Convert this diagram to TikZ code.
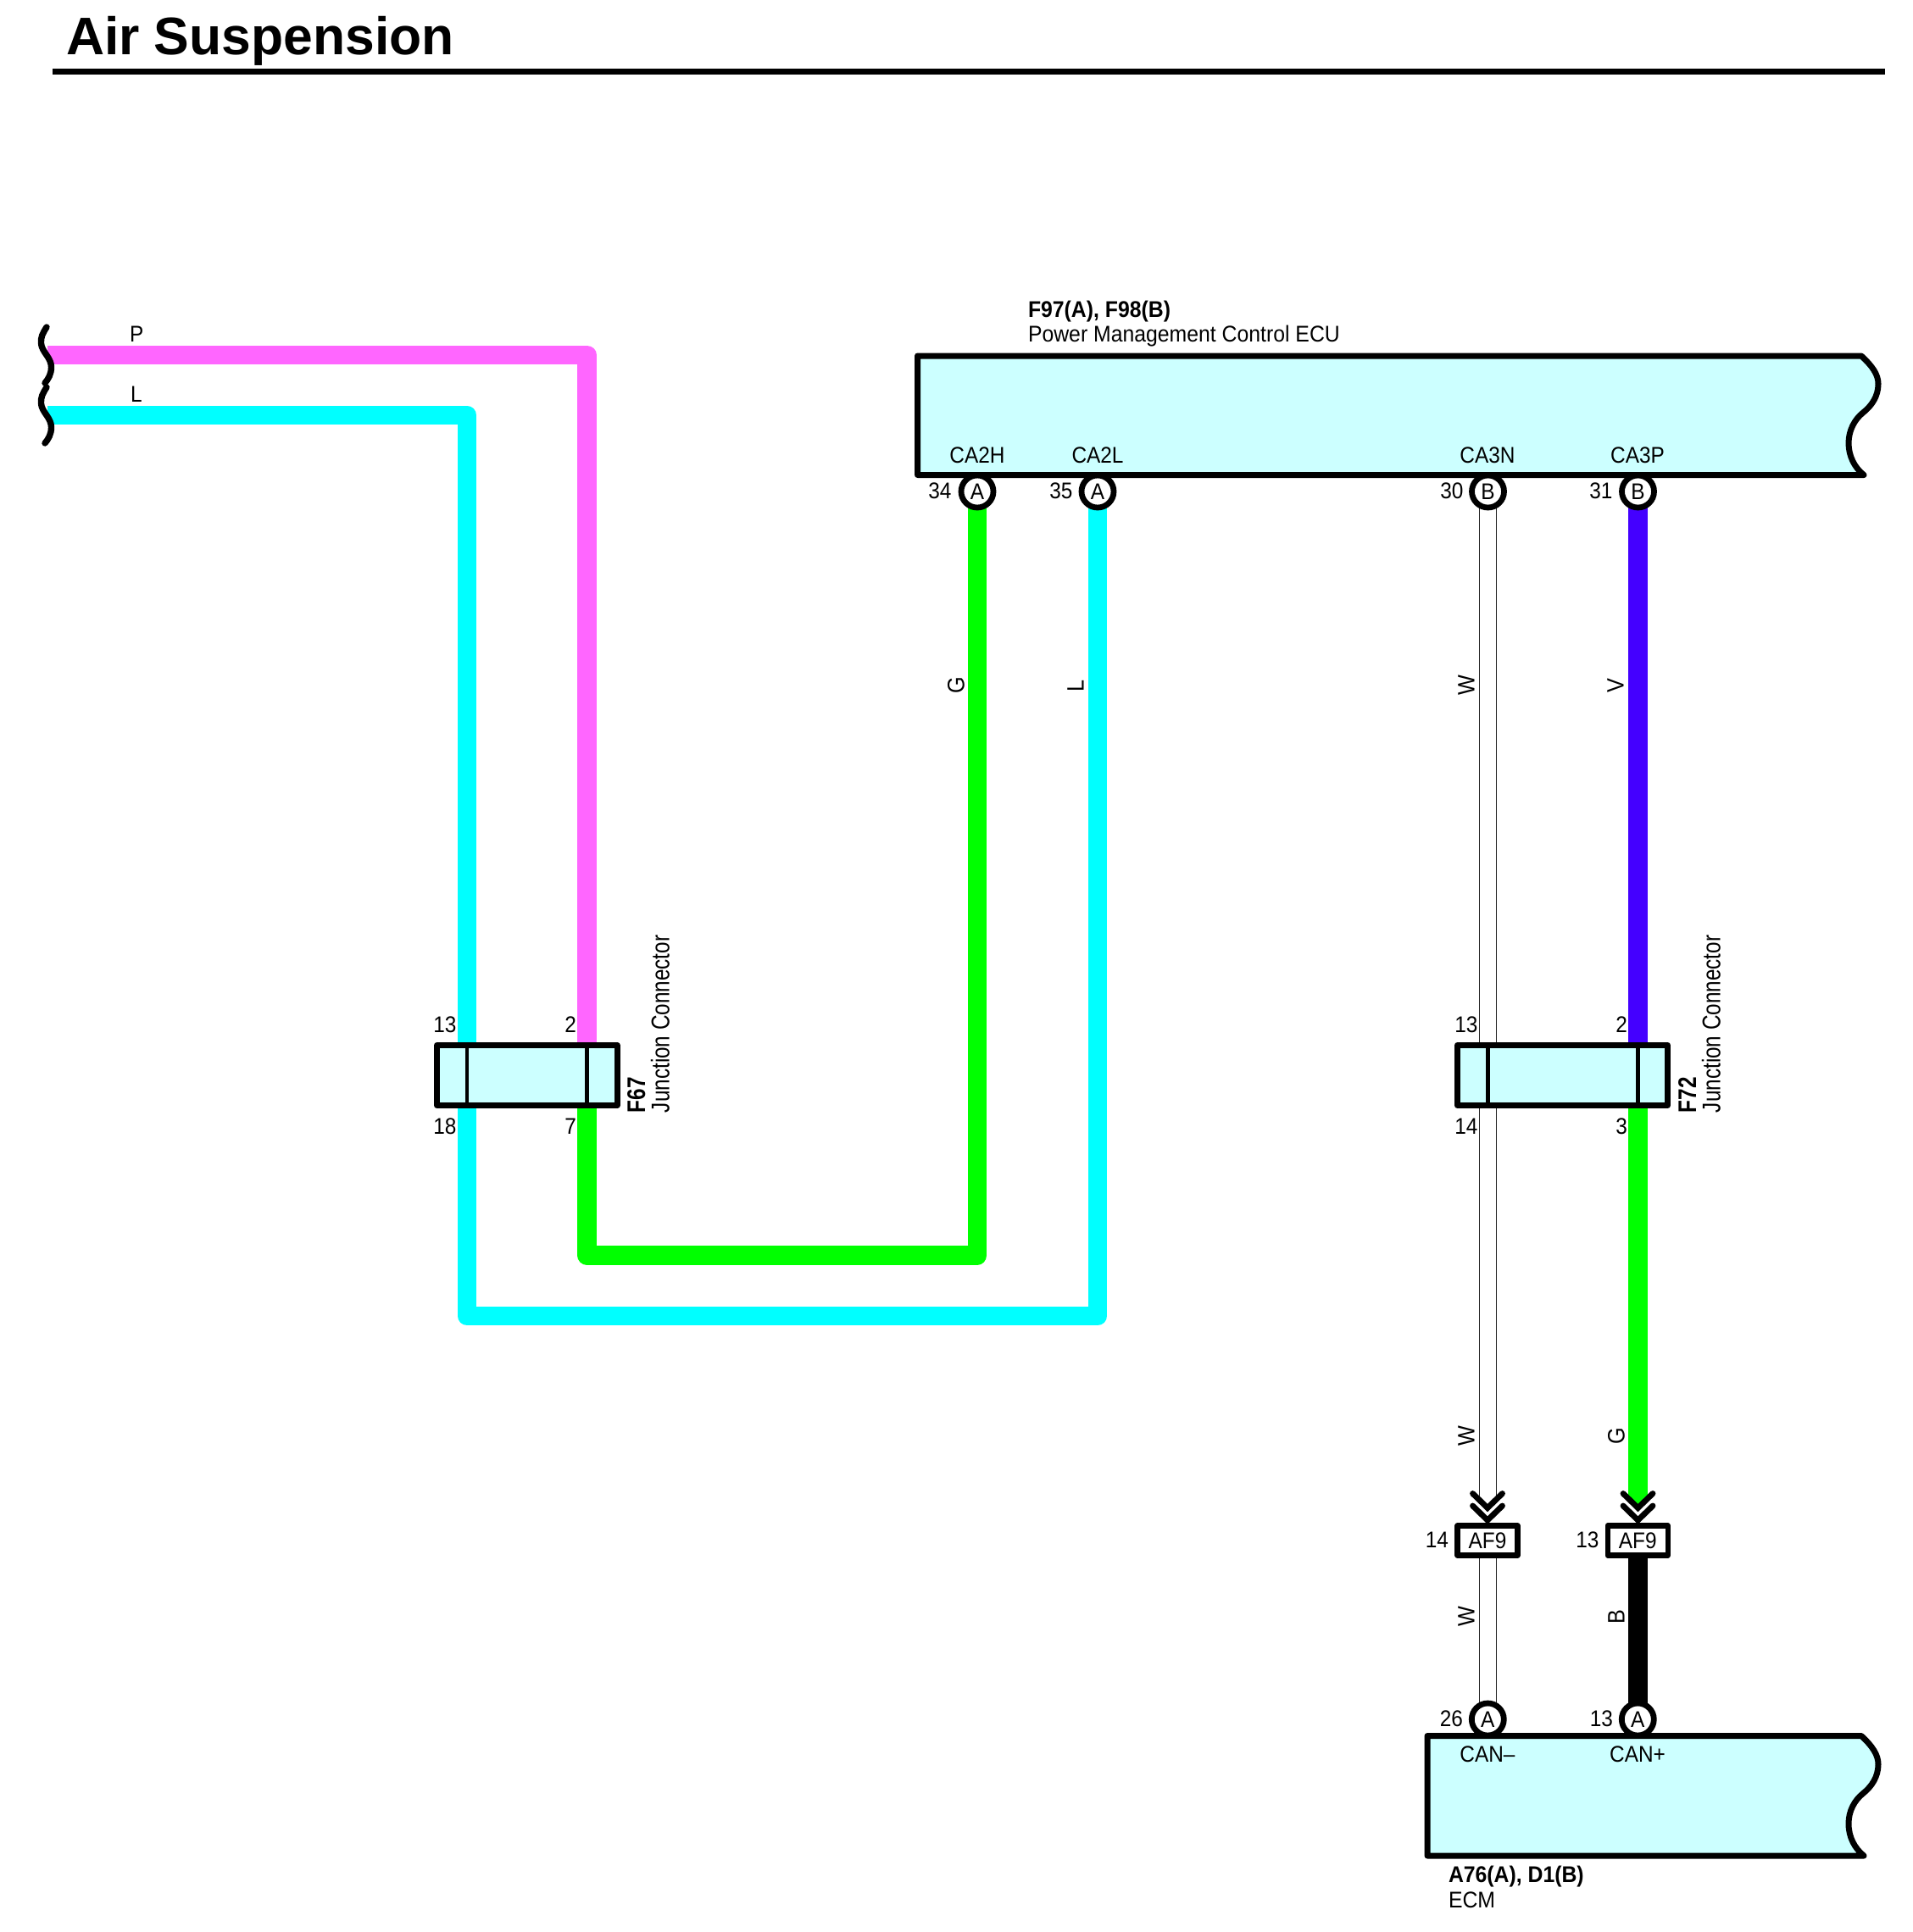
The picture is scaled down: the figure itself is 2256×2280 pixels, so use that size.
\documentclass[tikz,border=0pt]{standalone}
\usepackage{fontspec}
\setmainfont{Liberation Sans}
\newfontfamily\lblf[FakeStretch=0.91]{Liberation Sans}
\newfontfamily\capf[FakeStretch=0.925]{Liberation Sans}
\newfontfamily\rotf[FakeStretch=0.81]{Liberation Sans}
\newfontfamily\wirf[FakeStretch=0.90]{Liberation Sans}
\usetikzlibrary{backgrounds}
\definecolor{bodyc}{HTML}{CCFFFF}
\definecolor{wireP}{HTML}{FF66FF}
\definecolor{wireL}{HTML}{00FFFF}
\definecolor{wireG}{HTML}{00FF00}
\definecolor{wireV}{HTML}{4400FF}
\tikzset{
  x=0.5pt,y=-0.5pt,
  txt/.style={inner sep=0pt,outer sep=0pt,font=\lblf\fontsize{13.4}{14}\selectfont},
  rtxt/.style={inner sep=0pt,outer sep=0pt,rotate=90,anchor=base west,font=\rotf\fontsize{15}{16}\selectfont},
  wlabel/.style={inner sep=0pt,outer sep=0pt,rotate=90,font=\wirf\fontsize{14}{15}\selectfont},
  num/.style={txt,anchor=base east},
  numc/.style={txt,anchor=base},
  ttl/.style={txt,anchor=base west},
  capt/.style={txt,anchor=base west,font=\capf\fontsize{13.4}{14}\selectfont},
  captb/.style={txt,anchor=base west,font=\capf\bfseries\fontsize{13.4}{14}\selectfont},
  pinnode/.style={circle,draw=black,fill=white,line width=3.4pt,minimum size=19pt,inner sep=0pt,font=\lblf\fontsize{13.4}{14}\selectfont},
  jbox/.style={rectangle,draw=black,fill=bodyc,line width=3.5pt,line join=round,minimum height=35.5pt,inner sep=0pt},
  afbox/.style={rectangle,draw=black,fill=white,line width=3.2pt,line join=round,minimum width=35.5pt,minimum height=17.5pt,inner sep=0pt,font=\lblf\fontsize{13.4}{14}\selectfont},
  wire/.style={line width=11.2pt,line join=round,line cap=butt},
  whitewire/.style={draw=black!85,line width=0.6pt,double=white,double distance=9.4pt,line cap=butt},
  ecubody/.style={draw=black,fill=bodyc,line width=3.5pt,line join=round},
  divider/.style={draw=black,line width=2.1pt},
  wavy/.style={draw=black,line width=3.7pt,line cap=round},
  chev/.style={draw=black,line width=3.4pt,line cap=round,line join=miter},
}
\begin{document}
\begin{tikzpicture}
\useasboundingbox (0,0) rectangle (2256,2280);

% title
\node[txt,anchor=base west,font=\bfseries\fontsize{31.2}{33}\selectfont] (title) at (78,65) {Air Suspension};
\coordinate (ruleL) at (62,84.5);
\coordinate (ruleR) at (2224,84.5);
\draw[line width=3.5pt] (ruleL) -- (ruleR);

% ECU bodies
\draw[ecubody] (1082.5,420) -- (2196,420)
  .. controls (2209,432) and (2216,442) .. (2216,453)
  .. controls (2216,468) and (2208,479) .. (2198,487)
  .. controls (2188,495) and (2181,508) .. (2181,523)
  .. controls (2181,538) and (2188,552) .. (2199,560.5)
  -- (1082.5,560.5) -- cycle;
\draw[ecubody] (1684,2048.5) -- (2196,2048.5)
  .. controls (2209,2060.5) and (2216,2071) .. (2216,2082)
  .. controls (2216,2097) and (2208,2108.5) .. (2198,2116.5)
  .. controls (2188,2124.5) and (2181,2137) .. (2181,2152)
  .. controls (2181,2168) and (2188,2181) .. (2199,2190)
  -- (1684,2190) -- cycle;

% pins, upper ECU
\node[pinnode] (pinCAHH) at (1153,580) {A};
\node[pinnode] (pinCAHL) at (1295,580) {A};
\node[pinnode] (pinCAN) at (1755.5,580) {B};
\node[pinnode] (pinCAP) at (1932.5,580) {B};
% pins, lower ECU
\node[pinnode] (pinLow) at (1755.3,2029) {A};
\node[pinnode] (pinHigh) at (1932.3,2029) {A};

% junction connectors
\node[jbox,minimum width=106.25pt] (jF) at (621.75,1269) {};
\node[jbox,minimum width=124pt] (jR) at (1843.5,1269) {};
\coordinate (jFa1) at (551,1233.5);
\coordinate (jFa2) at (551,1304.5);
\coordinate (jFb1) at (692.5,1233.5);
\coordinate (jFb2) at (692.5,1304.5);
\coordinate (jRa1) at (1755.5,1233.5);
\coordinate (jRa2) at (1755.5,1304.5);
\coordinate (jRb1) at (1932.5,1233.5);
\coordinate (jRb2) at (1932.5,1304.5);
\draw[divider] (jFa1) -- (jFa2);
\draw[divider] (jFb1) -- (jFb2);
\draw[divider] (jRa1) -- (jRa2);
\draw[divider] (jRb1) -- (jRb2);

% in-line connectors
\node[afbox] (afL) at (1755,1818) {AF9};
\node[afbox] (afR) at (1932.3,1818) {AF9};

% free ends and corners
\coordinate (startP) at (56,418.7);
\coordinate (startL) at (56,490);
\coordinate (cornerG) at (692.5,1481.5);
\coordinate (cornerGb) at (1153,1481.5);
\coordinate (cornerL) at (551,1553);
\coordinate (cornerLb) at (1295,1553);
\coordinate (endW) at (1755.5,1770);
\coordinate (endG) at (1932.5,1764);
\coordinate (tipGl) at (1921,1764);
\coordinate (tipGr) at (1944,1764);
\coordinate (tipG) at (1932.5,1776);

\begin{pgfonlayer}{background}
  \draw[wire,wireP] (startP) -| (jFb1);
  \draw[wire,wireL] (startL) -| (jFa1);
  \draw[wire,wireG] (jFb2) -- (cornerG) -- (cornerGb) -- (pinCAHH.center);
  \draw[wire,wireL] (jFa2) -- (cornerL) -- (cornerLb) -- (pinCAHL.center);
  \draw[whitewire] (pinCAN.center) -- (jRa1);
  \draw[whitewire] (jRa2) -- (endW);
  \draw[whitewire] (afL.center -| pinLow) -- (pinLow.center);
  \draw[wire,wireV] (pinCAP.center) -- (jRb1);
  \draw[wire,wireG] (jRb2) -- (endG);
  \fill[wireG] (tipGl) -- (tipGr) -- (tipG) -- cycle;
  \draw[wire,black] (afR.center -| pinHigh) -- (pinHigh.center);
\end{pgfonlayer}

% chevrons
\draw[chev] (1737.5,1762.5) -- (1755,1779.5) -- (1772.5,1762.5);
\draw[chev] (1737.5,1777) -- (1755,1794) -- (1772.5,1777);
\draw[chev] (1915,1762.5) -- (1932.5,1779.5) -- (1950,1762.5);
\draw[chev] (1915,1777) -- (1932.5,1794) -- (1950,1777);

% wavy breaks
\draw[wavy] (55,386) .. controls (50,394) and (48,398) .. (48.5,405)
  .. controls (49,415) and (60.5,422) .. (60.5,433)
  .. controls (60.5,442) and (57,447) .. (53,452);
\draw[wavy] (55,457) .. controls (50,465) and (48,469) .. (48.5,476)
  .. controls (49,486) and (60.5,493) .. (60.5,504)
  .. controls (60.5,513) and (57,518) .. (53,523);

% wire colour labels
\node[ttl] (lblP) at (153,403) {P};
\node[ttl] (lblL) at (154,474) {L};
\node[wlabel] (lG1) at (1128,809) {G};
\node[wlabel] (lL1) at (1269,809) {L};
\node[wlabel] (lW1) at (1730,809) {W};
\node[wlabel] (lV1) at (1906,809) {V};
\node[wlabel] (lW2) at (1730,1695) {W};
\node[wlabel] (lG2) at (1907,1695) {G};
\node[wlabel] (lW3) at (1730,1908) {W};
\node[wlabel] (lB3) at (1907,1908) {B};

% ECU texts
\node[captb] (tU1) at (1213,374) {F97(A), F98(B)};
\node[capt] (tU2) at (1213,403) {Power Management Control ECU};
\node[numc] (sCAHH) at (1153,546) {CA2H};
\node[numc] (sCAHL) at (1295,546) {CA2L};
\node[numc] (sCAN) at (1755,546) {CA3N};
\node[numc] (sCAP) at (1932,546) {CA3P};
\node[num] (n34) at (1122.5,588) {34};
\node[num] (n35) at (1265.5,588) {35};
\node[num] (n30) at (1726.5,588) {30};
\node[num] (n31) at (1902.5,588) {31};

% junction numbers
\node[num] (j13) at (538.5,1218.5) {13};
\node[num] (j2) at (680,1218.5) {2};
\node[num] (j18) at (538.5,1338.5) {18};
\node[num] (j7) at (680,1338.5) {7};
\node[num] (k13) at (1743.5,1218.5) {13};
\node[num] (k2) at (1920,1218.5) {2};
\node[num] (k14) at (1743.5,1338.5) {14};
\node[num] (k3) at (1920,1338.5) {3};
\node[rtxt,font=\rotf\bfseries\fontsize{15}{16}\selectfont] (cF) at (761,1313) {F67};
\node[rtxt] (nF) at (789.5,1313) {Junction Connector};
\node[rtxt,font=\rotf\bfseries\fontsize{15}{16}\selectfont] (cR) at (2001,1313) {F72};
\node[rtxt] (nR) at (2029.5,1313) {Junction Connector};

% lower numbers and labels
\node[num] (a14) at (1709,1826) {14};
\node[num] (a13) at (1886.5,1826) {13};
\node[num] (b26) at (1726,2037.5) {26};
\node[num] (b13) at (1903,2037.5) {13};
\node[numc] (sLow) at (1755,2079) {CAN–};
\node[numc] (sHigh) at (1932,2079) {CAN+};
\node[captb] (tL1) at (1709,2221.5) {A76(A), D1(B)};
\node[capt] (tL2) at (1709,2251) {ECM};
\end{tikzpicture}
\end{document}
